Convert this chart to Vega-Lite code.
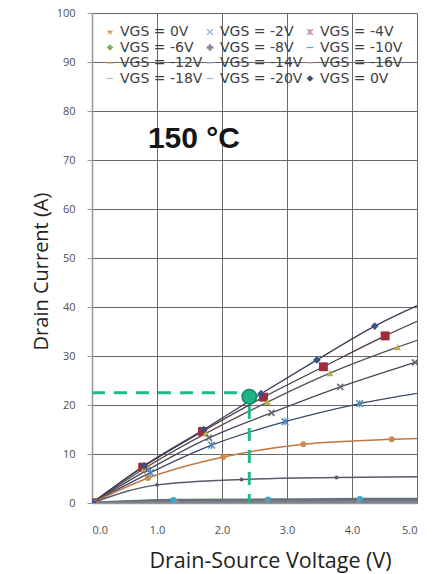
{
  "$schema": "https://vega.github.io/schema/vega-lite/v6.json",
  "width": 325,
  "height": 490,
  "autosize": {"type": "none"},
  "padding": {"left": 92, "top": 13, "right": 22, "bottom": 71},
  "background": "white",
  "config": {
    "view": {"stroke": null},
    "font": "DejaVu Sans",
    "axis": {
      "gridColor": "#686868",
      "gridWidth": 1,
      "gridOpacity": 1,
      "domainColor": "#999999",
      "domainWidth": 1.5,
      "labelFont": "Open Sans",
      "labelFontSize": 11,
      "labelColor": "#505050",
      "titleFont": "Open Sans",
      "titleFontWeight": "normal",
      "titleColor": "#222222"
    }
  },
  "datasets": {
    "curves": [
      {"series": "VGS = 0V", "vds": 0, "id": 0},
      {"series": "VGS = -2V", "vds": 0, "id": 0},
      {"series": "VGS = -2V", "vds": 0.78, "id": 7.3},
      {"series": "VGS = -2V", "vds": 1.7, "id": 14.6},
      {"series": "VGS = -2V", "vds": 2.64, "id": 21.6},
      {"series": "VGS = -2V", "vds": 3.56, "id": 27.8},
      {"series": "VGS = -2V", "vds": 4.51, "id": 34.1},
      {"series": "VGS = -2V", "vds": 5.4, "id": 39.4},
      {"series": "VGS = -4V", "vds": 0, "id": 0},
      {"series": "VGS = -4V", "vds": 0.8, "id": 7.0},
      {"series": "VGS = -4V", "vds": 1.75, "id": 14.2},
      {"series": "VGS = -4V", "vds": 2.7, "id": 20.6},
      {"series": "VGS = -4V", "vds": 3.66, "id": 26.5},
      {"series": "VGS = -4V", "vds": 4.7, "id": 31.8},
      {"series": "VGS = -4V", "vds": 5.4, "id": 35.0},
      {"series": "VGS = -6V", "vds": 0, "id": 0},
      {"series": "VGS = -6V", "vds": 0.85, "id": 6.7},
      {"series": "VGS = -6V", "vds": 1.8, "id": 13.3},
      {"series": "VGS = -6V", "vds": 2.76, "id": 18.4},
      {"series": "VGS = -6V", "vds": 3.82, "id": 23.7},
      {"series": "VGS = -6V", "vds": 4.97, "id": 28.7},
      {"series": "VGS = -6V", "vds": 5.4, "id": 30.5},
      {"series": "VGS = -8V", "vds": 0, "id": 0},
      {"series": "VGS = -8V", "vds": 0.9, "id": 6.2},
      {"series": "VGS = -8V", "vds": 1.84, "id": 11.8},
      {"series": "VGS = -8V", "vds": 2.97, "id": 16.6},
      {"series": "VGS = -8V", "vds": 4.12, "id": 20.3},
      {"series": "VGS = -8V", "vds": 5.4, "id": 23.2},
      {"series": "VGS = -10V", "vds": 0, "id": 0},
      {"series": "VGS = -10V", "vds": 0.86, "id": 5.1},
      {"series": "VGS = -10V", "vds": 2.02, "id": 9.4},
      {"series": "VGS = -10V", "vds": 3.25, "id": 12.0},
      {"series": "VGS = -10V", "vds": 4.61, "id": 13.0},
      {"series": "VGS = -10V", "vds": 5.4, "id": 13.3},
      {"series": "VGS = -12V", "vds": 0, "id": 0},
      {"series": "VGS = -12V", "vds": 1.0, "id": 3.7},
      {"series": "VGS = -12V", "vds": 2.3, "id": 4.8},
      {"series": "VGS = -12V", "vds": 3.76, "id": 5.2},
      {"series": "VGS = -12V", "vds": 5.4, "id": 5.4},
      {"series": "VGS = -14V", "vds": 0, "id": 0},
      {"series": "VGS = -14V", "vds": 1.25, "id": 0.6},
      {"series": "VGS = -14V", "vds": 2.71, "id": 0.7},
      {"series": "VGS = -14V", "vds": 4.12, "id": 0.8},
      {"series": "VGS = -14V", "vds": 5.4, "id": 0.85},
      {"series": "VGS = -16V", "vds": 0, "id": 0},
      {"series": "VGS = -16V", "vds": 1.3, "id": 0.4},
      {"series": "VGS = -16V", "vds": 2.7, "id": 0.45},
      {"series": "VGS = -16V", "vds": 4.1, "id": 0.5},
      {"series": "VGS = -16V", "vds": 5.4, "id": 0.5},
      {"series": "VGS = -18V", "vds": 0, "id": 0},
      {"series": "VGS = -18V", "vds": 1.3, "id": 0.2},
      {"series": "VGS = -18V", "vds": 2.7, "id": 0.25},
      {"series": "VGS = -18V", "vds": 4.1, "id": 0.3},
      {"series": "VGS = -18V", "vds": 5.4, "id": 0.3},
      {"series": "VGS = -20V", "vds": 0, "id": 0},
      {"series": "VGS = -20V", "vds": 1.3, "id": 0.05},
      {"series": "VGS = -20V", "vds": 2.7, "id": 0.1},
      {"series": "VGS = -20V", "vds": 4.1, "id": 0.1},
      {"series": "VGS = -20V", "vds": 5.4, "id": 0.1},
      {"series": "VGS = 0V ", "vds": 0, "id": 0},
      {"series": "VGS = 0V ", "vds": 0.8, "id": 7.6},
      {"series": "VGS = 0V ", "vds": 1.72, "id": 15.0},
      {"series": "VGS = 0V ", "vds": 2.6, "id": 22.3},
      {"series": "VGS = 0V ", "vds": 3.46, "id": 29.2},
      {"series": "VGS = 0V ", "vds": 4.35, "id": 36.1},
      {"series": "VGS = 0V ", "vds": 5.4, "id": 42.6}
    ],
    "guide": [
      {"seg": "h", "vds": 0, "id": 22.5},
      {"seg": "h", "vds": 2.3, "id": 22.5},
      {"seg": "v", "vds": 2.42, "id": 19.8},
      {"seg": "v", "vds": 2.42, "id": 0}
    ],
    "dot": [{"vds": 2.42, "id": 21.7}],
    "note": [{"vds": 0.86, "id": 72.4, "label": "150 °C"}]
  },
  "encoding": {
    "x": {
      "field": "vds", "type": "quantitative",
      "scale": {"domain": [0, 5], "nice": false, "zero": false},
      "axis": {
        "title": "Drain-Source Voltage (V)",
        "titleFontSize": 21.5,
        "titleX": 178,
        "values": [0, 1, 2, 3, 4, 5],
        "format": ".1f",
        "ticks": false,
        "labelPadding": 21,
        "titlePadding": 15,
        "grid": true
      }
    },
    "y": {
      "field": "id", "type": "quantitative",
      "scale": {"domain": [0, 100], "nice": false},
      "axis": {
        "title": "Drain Current (A)",
        "titleFontSize": 20,
        "titleY": 258,
        "values": [0, 10, 20, 30, 40, 50, 60, 70, 80, 90, 100],
        "tickSize": 5,
        "tickColor": "#999999",
        "labelPadding": 12,
        "titlePadding": 5,
        "grid": true
      }
    }
  },
  "layer": [
    {
      "data": {"name": "curves"},
      "mark": {"type": "line", "interpolate": "monotone", "clip": true},
      "encoding": {
        "stroke": {
          "field": "series", "type": "nominal", "legend": null,
          "scale": {
            "domain": ["VGS = 0V", "VGS = -2V", "VGS = -4V", "VGS = -6V", "VGS = -8V", "VGS = -10V", "VGS = -12V", "VGS = -14V", "VGS = -16V", "VGS = -18V", "VGS = -20V", "VGS = 0V "],
            "range": ["#8a6a50", "#4a3848", "#5a5048", "#4a4858", "#3a4a68", "#c07840", "#5a5a6a", "#66707e", "#6e6e74", "#747c84", "#7a8490", "#3a3a58"]
          }
        },
        "strokeWidth": {
          "field": "series", "type": "nominal", "legend": null,
          "scale": {
            "type": "ordinal",
            "domain": ["VGS = 0V", "VGS = -2V", "VGS = -4V", "VGS = -6V", "VGS = -8V", "VGS = -10V", "VGS = -12V", "VGS = -14V", "VGS = -16V", "VGS = -18V", "VGS = -20V", "VGS = 0V "],
            "range": [1.3, 1.3, 1.3, 1.3, 1.3, 1.5, 1.5, 2.5, 2.5, 2.5, 2.5, 1.3]
          }
        }
      }
    },
    {
      "data": {"name": "curves"},
      "mark": {"type": "point", "filled": true, "opacity": 1, "clip": true},
      "encoding": {
        "color": {
          "field": "series", "type": "nominal", "legend": null,
          "scale": {
            "domain": ["VGS = 0V", "VGS = -2V", "VGS = -4V", "VGS = -6V", "VGS = -8V", "VGS = -10V", "VGS = -12V", "VGS = -14V", "VGS = -16V", "VGS = -18V", "VGS = -20V", "VGS = 0V "],
            "range": ["#8a9a70", "#a02c3c", "#b8b050", "#6a6070", "#4a88c0", "#d08848", "#5a5a6a", "#40a0d0", "#909090", "#909090", "#909090", "#3e5080"]
          }
        },
        "shape": {
          "field": "series", "type": "nominal", "legend": null,
          "scale": {
            "domain": ["VGS = 0V", "VGS = -2V", "VGS = -4V", "VGS = -6V", "VGS = -8V", "VGS = -10V", "VGS = -12V", "VGS = -14V", "VGS = -16V", "VGS = -18V", "VGS = -20V", "VGS = 0V "],
            "range": [
              "square",
              "square",
              "triangle-up",
              "M-1,-0.7L-0.7,-1L0,-0.3L0.7,-1L1,-0.7L0.3,0L1,0.7L0.7,1L0,0.3L-0.7,1L-1,0.7L-0.3,0Z",
              "M-1,-0.75L-0.75,-1L0,-0.25L0.75,-1L1,-0.75L0.25,0L1,0.75L0.75,1L0,0.25L-0.75,1L-1,0.75L-0.25,0Z M-0.15,-1H0.15V1H-0.15Z",
              "circle", "circle", "circle", "circle", "circle", "circle",
              "diamond"
            ]
          }
        },
        "size": {
          "field": "series", "type": "nominal", "legend": null,
          "scale": {
            "type": "ordinal",
            "domain": ["VGS = 0V", "VGS = -2V", "VGS = -4V", "VGS = -6V", "VGS = -8V", "VGS = -10V", "VGS = -12V", "VGS = -14V", "VGS = -16V", "VGS = -18V", "VGS = -20V", "VGS = 0V "],
            "range": [90, 80, 50, 50, 60, 35, 15, 40, 10, 10, 10, 60]
          }
        }
      }
    },
    {
      "data": {"name": "curves"},
      "mark": {"type": "point", "filled": true, "opacity": 0, "clip": true},
      "encoding": {
        "fill": {
          "field": "series", "type": "nominal",
          "scale": {
            "domain": ["VGS = 0V", "VGS = -2V", "VGS = -4V", "VGS = -6V", "VGS = -8V", "VGS = -10V", "VGS = -12V", "VGS = -14V", "VGS = -16V", "VGS = -18V", "VGS = -20V", "VGS = 0V "],
            "range": ["#c89a60", "#8aa8d0", "#d07890", "#80b060", "#8a8098", "#50a8d8", "#e09070", "#b8b8e0", "#d8b0a0", "#a8d090", "#a8b0e0", "#405070"]
          },
          "legend": {
            "title": null,
            "orient": "none",
            "direction": "horizontal",
            "legendX": 11,
            "legendY": 12,
            "columns": 3,
            "gridAlign": "all",
            "columnPadding": 0,
            "rowPadding": 1.5,
            "labelFont": "DejaVu Sans",
            "labelFontSize": 14,
            "labelColor": "#404040",
            "labelOffset": 3,
            "symbolSize": 45,
            "symbolOpacity": 1,
            "symbolStrokeWidth": 0,
            "padding": 0,
            "encode": {"symbols": {"update": {"opacity": {"value": 1}, "fillOpacity": {"value": 1}}}}
          }
        },
        "shape": {
          "field": "series", "type": "nominal",
          "scale": {
            "domain": ["VGS = 0V", "VGS = -2V", "VGS = -4V", "VGS = -6V", "VGS = -8V", "VGS = -10V", "VGS = -12V", "VGS = -14V", "VGS = -16V", "VGS = -18V", "VGS = -20V", "VGS = 0V "],
            "range": [
              "M0,-1L0.235,-0.324L0.951,-0.309L0.38,0.124L0.588,0.809L0,0.4L-0.588,0.809L-0.38,0.124L-0.951,-0.309L-0.235,-0.324Z",
              "M-1,-0.75L-0.75,-1L0,-0.25L0.75,-1L1,-0.75L0.25,0L1,0.75L0.75,1L0,0.25L-0.75,1L-1,0.75L-0.25,0Z",
              "M-1,-0.75L-0.75,-1L0,-0.25L0.75,-1L1,-0.75L0.25,0L1,0.75L0.75,1L0,0.25L-0.75,1L-1,0.75L-0.25,0Z M-0.15,-1H0.15V1H-0.15Z",
              "diamond",
              "cross",
              "M-1,-0.18H1V0.18H-1Z",
              "M-1,-0.18H1V0.18H-1Z",
              "M-1,-0.18H1V0.18H-1Z",
              "M-1,-0.18H1V0.18H-1Z",
              "M-1,-0.18H1V0.18H-1Z",
              "M-1,-0.18H1V0.18H-1Z",
              "diamond"
            ]
          }
        }
      }
    },
    {
      "data": {"name": "guide"},
      "mark": {"type": "line", "color": "#1fb98a", "strokeWidth": 3, "strokeDash": [13, 9]},
      "encoding": {"detail": {"field": "seg", "type": "nominal"}}
    },
    {
      "data": {"name": "dot"},
      "mark": {"type": "point", "shape": "circle", "filled": true, "size": 210, "color": "#1db384", "opacity": 1, "stroke": "#0f8a62", "strokeWidth": 1.5}
    },
    {
      "data": {"name": "note"},
      "mark": {"type": "text", "align": "left", "baseline": "alphabetic", "font": "Liberation Sans", "fontSize": 30, "fontWeight": "bold", "color": "#151515"},
      "encoding": {"text": {"field": "label", "type": "nominal"}}
    }
  ],
  "resolve": {"scale": {"color": "independent", "shape": "independent", "size": "independent", "fill": "independent", "stroke": "independent", "strokeWidth": "independent"}}
}
